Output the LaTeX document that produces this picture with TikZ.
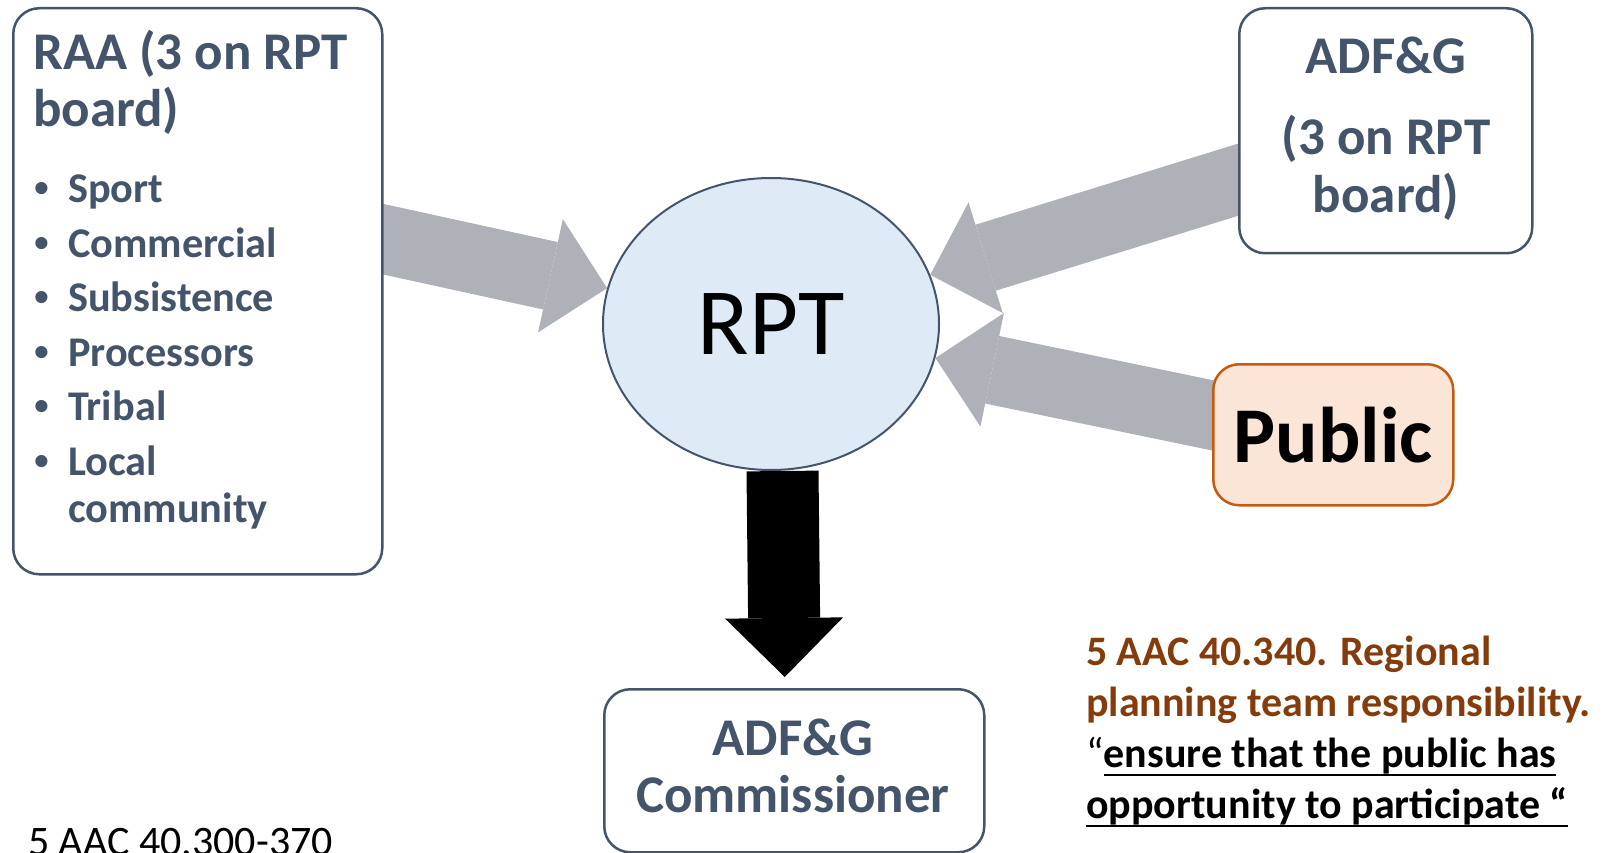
\documentclass[tikz,border=0pt]{standalone}
\usepackage{fontspec}
\setmainfont{Carlito}
\newfontfamily\dotfont{Liberation Sans}
\usetikzlibrary{shapes.geometric,arrows.meta,backgrounds}
\definecolor{slate}{HTML}{44546A}
\definecolor{bubble}{HTML}{DEEBF7}
\definecolor{flow}{HTML}{AFB1B8}
\definecolor{peach}{HTML}{FBE5D6}
\definecolor{rust}{HTML}{C55A11}
\definecolor{lawbrown}{HTML}{843C0C}
\newcommand{\uln}[1]{{\setbox0\hbox{#1}\rlap{\vrule height -6.5pt depth 8.9pt width \wd0}\box0}}
\newcommand{\dotitem}{{\dotfont\makebox[34pt][l]{\textbullet}}}
\tikzset{box/.style={draw=slate, line width=2.5pt, rounded corners=26pt, fill=white, inner sep=0pt, anchor=north west},
  heading/.style={anchor=base, inner sep=0pt, text=slate, font=\bfseries\fontsize{53}{58}\selectfont},
  item/.style={anchor=base west, inner sep=0pt, text=slate, font=\bfseries\fontsize{42.3}{47}\selectfont},
  note/.style={anchor=base west, inner sep=0pt, font=\bfseries\fontsize{42}{47}\selectfont},
  feed/.style={flow, line width=69pt, -{Triangle[width=116pt,length=58pt,line width=0pt]}},
  outflow/.style={black, line width=72pt, -{Triangle[width=118pt,length=59pt,line width=0pt]}}}

\begin{document}
\begin{tikzpicture}[x=1pt,y=-1pt]
  \useasboundingbox (0,0) rectangle (1612,853);
  \clip (0,0) rectangle (1612,853);
  \node[box, minimum width=369pt, minimum height=566pt] (raa) at (12,7) {};
  \node[box, minimum width=293pt, minimum height=245pt] (adfg) at (1238,7) {};
  \node[box, draw=rust, fill=peach, minimum width=240pt, minimum height=141pt,
        font=\bfseries\fontsize{79}{80}\selectfont] (public) at (1212,363) {Public};
  \node[box, minimum width=380pt, minimum height=163pt] (comm) at (603,688) {};
  \node[ellipse, draw=slate, line width=2pt, fill=bubble, minimum width=336pt, minimum height=292pt,
        inner sep=0pt, font=\fontsize{95}{100}\selectfont] (rpt) at (771,324) {RPT};

  \node[item, font=\bfseries\fontsize{53}{58}\selectfont] (raa1) at (33,70) {RAA (3 on RPT};
  \node[item, font=\bfseries\fontsize{53}{58}\selectfont] (raa2) at (33,127) {board)};
  \foreach \txt [count=\i] in {Sport,Commercial,Subsistence,Processors,Tribal,Local}
    \node[item] (member\i) at (34,{203+54.4*(\i-1)}) {\dotitem\txt};
  \node[item] (member7) at (68,522) {community};

  \node[heading] (adfg1) at (1386,74) {ADF\&G};
  \node[heading] (adfg2) at (1386,155) {(3 on RPT};
  \node[heading] (adfg3) at (1386,213) {board)};
  \node[heading] (comm1) at (793,755) {ADF\&G};
  \node[heading] (comm2) at (793,812) {Commissioner};

  \node[note, text=lawbrown] (law1) at (1086,665) {5 AAC 40.340. Regional};
  \node[note, text=lawbrown] (law2) at (1086,716) {planning team responsibility.};
  \node[note] (law3) at (1086,767) {{\mdseries“}\uln{ensure that the public has}};
  \node[note] (law4) at (1086,818) {\uln{opportunity to participate “}};
  \node[anchor=base west, inner sep=0pt, font=\fontsize{42}{47}\selectfont] (range) at (28,855) {5 AAC 40.300-370};

  \begin{pgfonlayer}{background}
    \draw[feed, shorten <=-25pt] ([yshift=52pt]raa.east) -- (rpt);
    \draw[feed, shorten <=-25pt] ([yshift=-49pt]adfg.west) -- (rpt);
    \draw[feed, shorten <=-25pt] ([yshift=19.5pt]public.west) -- (rpt);
    \draw[outflow] ([xshift=11.5pt]rpt.south) -- ([xshift=-9.5pt,yshift=11pt]comm.north);
  \end{pgfonlayer}
\end{tikzpicture}
\end{document}
